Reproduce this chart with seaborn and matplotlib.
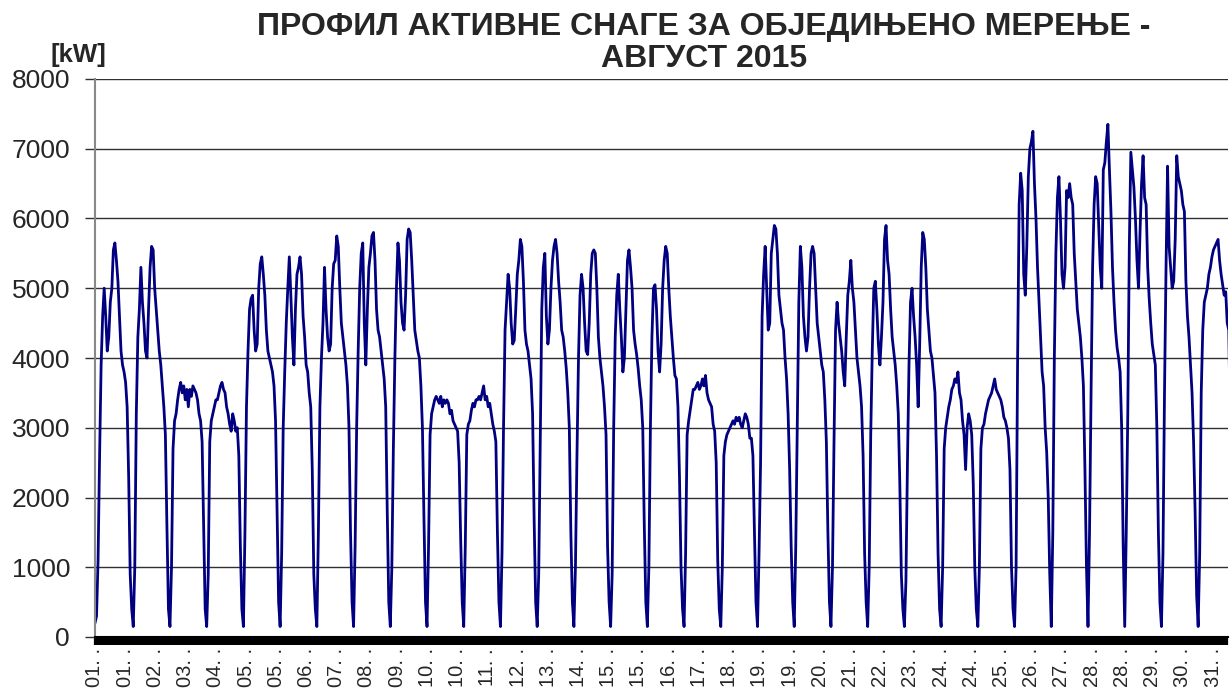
import numpy as np
import pandas as pd
import matplotlib
matplotlib.use("Agg")
import matplotlib.pyplot as plt
import seaborn as sns

# hourly active power readings [kW], one list per day of August 2015 (00:00 .. 23:00)
day_01 = [200, 300, 1100, 2600, 3900, 4600, 5000, 4600, 4100, 4300, 4800, 5000, 5550, 5650, 5400, 5100, 4600, 4100, 3900, 3800, 3650, 3300, 2300, 900]
day_02 = [400, 150, 1000, 3200, 4300, 4700, 5300, 4800, 4500, 4100, 4000, 4700, 5300, 5600, 5550, 5000, 4700, 4400, 4100, 3900, 3600, 3300, 2900, 1600]
day_03 = [400, 150, 1000, 2700, 3100, 3200, 3400, 3550, 3650, 3500, 3600, 3400, 3550, 3300, 3550, 3450, 3600, 3550, 3500, 3400, 3200, 3100, 2800, 1600]
day_04 = [400, 150, 900, 2800, 3100, 3200, 3300, 3400, 3400, 3500, 3600, 3650, 3550, 3500, 3300, 3200, 3050, 2950, 3200, 3100, 2950, 3000, 2600, 1300]
day_05 = [400, 150, 1500, 3300, 4100, 4700, 4850, 4900, 4400, 4100, 4200, 5000, 5350, 5450, 5200, 4900, 4400, 4100, 4000, 3900, 3800, 3600, 3100, 1800]
day_06 = [500, 150, 1200, 3000, 3800, 4500, 5000, 5450, 4900, 4300, 3900, 4700, 5200, 5300, 5450, 5200, 4600, 4300, 3900, 3800, 3500, 3300, 2400, 900]
day_07 = [400, 150, 1500, 3300, 4000, 4500, 5300, 4700, 4300, 4100, 4200, 5000, 5350, 5400, 5750, 5600, 5000, 4500, 4300, 4100, 3900, 3600, 3000, 1500]
day_08 = [500, 150, 1300, 3000, 4100, 5000, 5500, 5650, 4500, 3900, 4700, 5300, 5500, 5750, 5800, 5400, 4700, 4400, 4300, 4100, 3900, 3700, 3300, 1800]
day_09 = [500, 150, 1000, 2700, 4000, 5000, 5650, 5400, 4800, 4500, 4400, 4900, 5700, 5850, 5800, 5400, 4900, 4400, 4250, 4100, 4000, 3600, 3000, 1700]
day_10 = [500, 150, 1300, 2900, 3200, 3300, 3400, 3450, 3400, 3350, 3450, 3300, 3400, 3350, 3400, 3350, 3200, 3250, 3100, 3050, 3000, 2950, 2500, 1400]
day_11 = [500, 150, 1300, 2900, 3050, 3100, 3250, 3350, 3300, 3400, 3400, 3450, 3400, 3500, 3600, 3400, 3450, 3300, 3350, 3200, 3050, 2950, 2800, 1500]
day_12 = [500, 150, 1200, 3000, 4400, 4800, 5200, 5000, 4500, 4200, 4250, 4700, 5200, 5400, 5700, 5600, 5100, 4400, 4200, 4100, 3900, 3700, 3200, 1700]
day_13 = [500, 150, 900, 2800, 4700, 5300, 5500, 4600, 4200, 4400, 5000, 5400, 5600, 5700, 5500, 5100, 4800, 4400, 4300, 4100, 3850, 3500, 3000, 1500]
day_14 = [500, 150, 1000, 2600, 4000, 4900, 5200, 5000, 4500, 4100, 4050, 4500, 5200, 5500, 5550, 5500, 5000, 4300, 4000, 3800, 3600, 3300, 2900, 1300]
day_15 = [500, 150, 900, 3000, 4300, 4900, 5200, 4700, 4300, 3800, 4000, 4700, 5400, 5550, 5300, 5000, 4400, 4200, 4050, 3850, 3600, 3400, 3000, 1600]
day_16 = [500, 150, 1000, 3000, 4300, 5000, 5050, 4700, 4100, 3800, 4200, 5000, 5400, 5600, 5500, 5000, 4600, 4300, 4000, 3750, 3700, 3300, 2300, 1000]
day_17 = [400, 150, 1200, 2900, 3100, 3250, 3400, 3550, 3550, 3600, 3650, 3550, 3600, 3700, 3600, 3750, 3500, 3400, 3350, 3300, 3050, 2950, 2500, 1100]
day_18 = [400, 150, 1000, 2600, 2800, 2900, 2950, 3000, 3050, 3100, 3050, 3150, 3100, 3150, 3050, 3000, 3100, 3200, 3150, 3050, 2850, 2850, 2600, 1500]
day_19 = [500, 150, 1200, 2500, 4600, 5200, 5600, 5000, 4400, 4500, 5500, 5700, 5900, 5850, 5500, 4900, 4700, 4500, 4400, 4000, 3700, 3200, 2400, 1300]
day_20 = [500, 150, 1300, 3100, 4800, 5600, 5300, 4600, 4300, 4100, 4300, 5000, 5500, 5600, 5500, 5000, 4500, 4300, 4100, 3900, 3800, 3400, 2800, 1500]
day_21 = [500, 150, 1000, 2800, 4400, 4800, 4500, 4300, 4100, 3800, 3600, 4300, 4900, 5100, 5400, 5000, 4800, 4400, 4000, 3800, 3600, 3300, 2600, 1200]
day_22 = [500, 150, 1000, 2900, 4100, 5000, 5100, 4700, 4200, 3900, 4300, 4800, 5700, 5900, 5400, 5200, 4700, 4300, 4100, 3900, 3600, 3200, 2200, 900]
day_23 = [400, 150, 800, 2500, 3900, 4800, 5000, 4600, 4300, 3900, 3300, 4200, 5300, 5800, 5700, 5300, 4700, 4400, 4100, 4000, 3750, 3500, 2600, 1200]
day_24 = [400, 150, 1000, 2700, 3000, 3150, 3300, 3400, 3550, 3600, 3700, 3650, 3800, 3500, 3400, 3100, 2900, 2400, 3000, 3200, 3100, 2900, 2200, 1000]
day_25 = [400, 150, 1000, 2700, 3000, 3050, 3200, 3300, 3400, 3450, 3500, 3600, 3700, 3550, 3500, 3450, 3400, 3300, 3150, 3100, 3000, 2850, 2400, 1000]
day_26 = [400, 150, 1000, 4000, 6200, 6650, 6400, 5200, 4900, 5600, 6600, 7000, 7100, 7250, 6500, 6000, 5300, 4800, 4300, 3800, 3600, 3000, 2650, 2000]
day_27 = [900, 150, 1500, 4000, 5500, 6300, 6600, 6000, 5200, 5000, 5300, 6400, 6300, 6500, 6300, 6200, 5500, 5100, 4700, 4500, 4300, 4000, 3600, 2400]
day_28 = [1000, 150, 1500, 3500, 5300, 6200, 6600, 6500, 5900, 5300, 5000, 6700, 6800, 7100, 7350, 6700, 6100, 5300, 4800, 4400, 4150, 4000, 3800, 3000]
day_29 = [1300, 150, 1500, 3200, 5600, 6950, 6700, 6450, 6000, 5400, 5000, 5800, 6500, 6900, 6300, 6200, 5300, 4850, 4500, 4200, 4050, 3900, 3000, 1500]
day_30 = [500, 150, 1200, 3500, 5300, 6750, 5600, 5300, 5000, 5100, 5700, 6900, 6600, 6500, 6400, 6200, 6100, 5100, 4600, 4300, 3900, 3500, 2800, 1800]
day_31 = [600, 150, 1200, 3500, 4400, 4800, 4900, 5000, 5200, 5300, 5450, 5550, 5600, 5650, 5700, 5400, 5200, 5050, 4900, 4950, 4500, 4400, 3000, 1000]

days = [day_01, day_02, day_03, day_04, day_05, day_06, day_07, day_08, day_09, day_10,
        day_11, day_12, day_13, day_14, day_15, day_16, day_17, day_18, day_19, day_20,
        day_21, day_22, day_23, day_24, day_25, day_26, day_27, day_28, day_29, day_30, day_31]

# category labels Excel printed every 79 quarter-hours (truncated dates)
tick_days = ["01", "01", "02", "03", "04", "05", "05", "06", "07", "08", "09", "10", "10",
             "11", "12", "13", "14", "15", "15", "16", "17", "18", "19", "19", "20", "21",
             "22", "23", "24", "24", "25", "26", "27", "28", "28", "29", "30", "31"]

title = "ПРОФИЛ АКТИВНЕ СНАГЕ ЗА ОБЈЕДИЊЕНО МЕРЕЊЕ -\nАВГУСТ 2015"

kw = np.concatenate(days)
df = pd.DataFrame({"hour": np.arange(len(kw)), "kW": kw})

sns.set_style("white")
plt.rcParams["font.family"] = ["Liberation Sans", "DejaVu Sans"]

fig = plt.figure(figsize=(12.32, 6.99), dpi=100)
ax = fig.add_axes([95 / 1232, 1 - 637 / 699, 1133 / 1232, 558 / 699])

sns.lineplot(data=df, x="hour", y="kW", ax=ax, color="#000080", linewidth=2.0)

ax.set_xlim(0, 740.5)
ax.set_ylim(0, 8000)
ax.set_yticks(np.arange(0, 8001, 1000))
ax.yaxis.grid(True, color="#303030", linewidth=1.0)
ax.set_axisbelow(True)
ax.tick_params(axis="y", left=True, direction="out", length=7, width=1, color="#303030",
               labelsize=19, pad=11)

# dense category tick marks form the black band under the plot
ax.set_xticks(np.arange(len(tick_days)) * 79 / 4)
ax.set_xticklabels([d + ". ." for d in tick_days], rotation=90, fontsize=14.5)
ax.set_xticks(np.arange(0, 741, 1), minor=True)
ax.tick_params(axis="x", which="both", bottom=True, direction="out", length=6, width=1.6,
               color="black", pad=2)

ax.set_xlabel("")
ax.set_ylabel("")
for side in ["top", "right"]:
    ax.spines[side].set_visible(False)
ax.spines["left"].set_color("#888888")
ax.spines["left"].set_linewidth(1.5)
ax.spines["bottom"].set_color("black")
ax.spines["bottom"].set_linewidth(1.5)

fig.text(704 / 1232, 1 - 43 / 699, title, ha="center", va="center",
         fontsize=23, fontweight="bold", linespacing=1.1)
fig.text(50 / 1232, 1 - 55 / 699, "[kW]", ha="left", va="center",
         fontsize=18.5, fontweight="bold")

fig.savefig("out.png", dpi=100)
